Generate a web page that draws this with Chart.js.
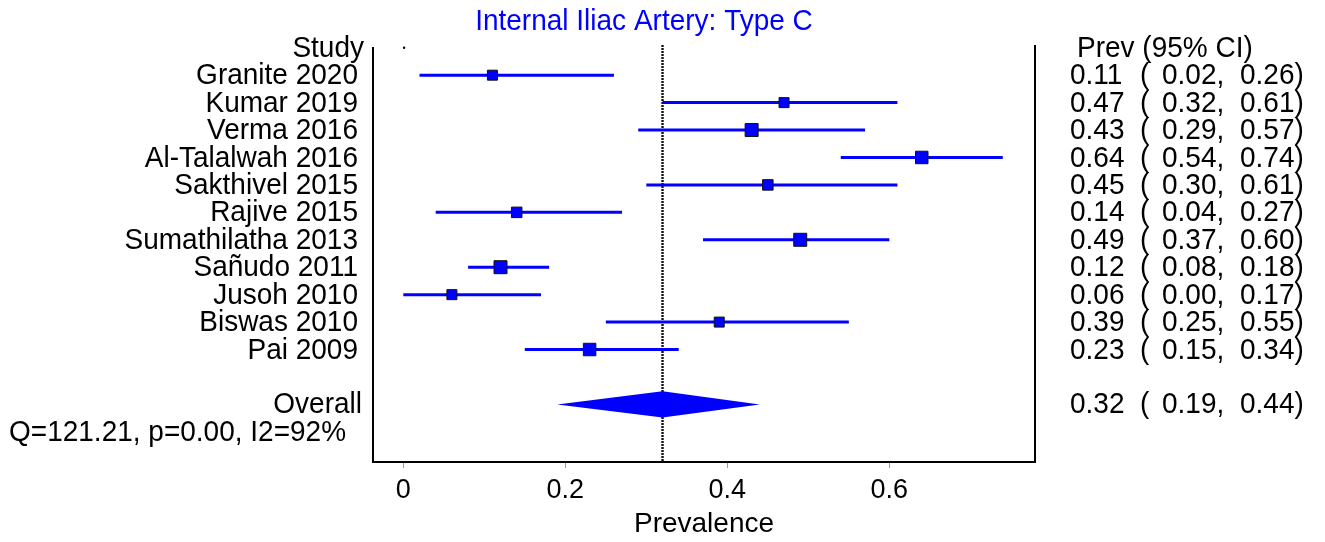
<!DOCTYPE html>
<html>
<head>
<meta charset="utf-8">
<title>Internal Iliac Artery: Type C</title>
<script src="https://cdn.jsdelivr.net/npm/chart.js@4/dist/chart.umd.min.js"></script>
<style>
  html, body { margin: 0; padding: 0; background: #fff; }
  #wrap { width: 1325px; height: 542px; }
</style>
</head>
<body>
<div id="wrap"><canvas id="forest" width="1325" height="542"></canvas></div>
<script>
// study rows, top to bottom
const studies = ["Granite 2020", "Kumar 2019", "Verma 2016", "Al-Talalwah 2016", "Sakthivel 2015",
  "Rajive 2015", "Sumathilatha 2013", "Sañudo 2011", "Jusoh 2010", "Biswas 2010", "Pai 2009"];
const prev  = [0.11, 0.47, 0.43, 0.64, 0.45, 0.14, 0.49, 0.12, 0.06, 0.39, 0.23];
const lower = [0.02, 0.32, 0.29, 0.54, 0.30, 0.04, 0.37, 0.08, 0.00, 0.25, 0.15];
const upper = [0.26, 0.61, 0.57, 0.74, 0.61, 0.27, 0.60, 0.18, 0.17, 0.55, 0.34];

const overall = [0.32, 0.19, 0.44]; // estimate, lower, upper
const heterogeneity = "Q=121.21, p=0.00, I2=92%";
const xTicks = [0, 0.2, 0.4, 0.6];

// box side in px (study weight)
const markerSide = [10, 10, 13, 12.5, 10.5, 10.5, 13, 13, 10, 10, 12.5];

const BLUE = "#0000ff";
const FAMILY = '"Liberation Sans", Arial, sans-serif';
const FONT = "28px " + FAMILY;
const overallRow = studies.length + 2;
const yMin = -0.1, yMax = 15.1;

// CI segments, null y breaks the line between studies
const ciPoints = [];
studies.forEach((s, i) => {
  ciPoints.push({ x: lower[i], y: i + 1 }, { x: upper[i], y: i + 1 }, { x: upper[i], y: null });
});

const diamond = [
  { x: overall[1], y: overallRow },
  { x: overall[0], y: overallRow - 0.48 },
  { x: overall[2], y: overallRow },
  { x: overall[0], y: overallRow + 0.48 },
  { x: overall[1], y: overallRow }
];

const forestText = {
  id: "forestText",
  afterDraw(chart) {
    const { ctx, chartArea, scales } = chart;
    const y = v => scales.y.getPixelForValue(v) + 1;
    // stata text is a touch taller than plain Arial
    const text = (str, x, yy) => {
      ctx.save();
      ctx.translate(x, yy);
      ctx.scale(1, 1.05);
      ctx.fillText(str, 0, 0);
      ctx.restore();
    };
    ctx.save();

    // frame sides
    ctx.strokeStyle = "#000";
    ctx.lineWidth = 2;
    ctx.beginPath();
    ctx.moveTo(chartArea.left, chartArea.top + 2);
    ctx.lineTo(chartArea.left, chartArea.bottom);
    ctx.moveTo(chartArea.right, chartArea.top);
    ctx.lineTo(chartArea.right, chartArea.bottom);
    ctx.stroke();

    ctx.font = FONT;
    ctx.textBaseline = "middle";

    // title
    ctx.fillStyle = BLUE;
    ctx.textAlign = "center";
    text("Internal Iliac Artery: Type C", 644, 22);

    ctx.fillStyle = "#000";
    ctx.textAlign = "right";
    text("Study", 364, y(0));
    studies.forEach((s, i) => text(s, 358, y(i + 1)));
    text("Overall", 362, y(overallRow));

    ctx.textAlign = "left";
    text(heterogeneity, 9, y(overallRow + 1));

    text("Prev (95% CI)", 1077, y(0));
    const row = (est, lo, hi, r) => {
      text(est.toFixed(2), 1070, y(r));
      text("(", 1140, y(r));
      text(lo.toFixed(2) + ",", 1162, y(r));
      text(hi.toFixed(2) + ")", 1240, y(r));
    };
    studies.forEach((s, i) => row(prev[i], lower[i], upper[i], i + 1));
    row(overall[0], overall[1], overall[2], overallRow);

    ctx.restore();
  }
};

new Chart(document.getElementById("forest"), {
  type: "scatter",
  data: {
    datasets: [
      {
        // reference line at pooled estimate
        type: "line",
        data: [{ x: overall[0], y: yMin }, { x: overall[0], y: yMax }],
        borderColor: "#111",
        borderWidth: 2.4,
        borderDash: [2, 1],
        pointRadius: 0,
        order: 3
      },
      {
        type: "line",
        data: ciPoints,
        borderColor: BLUE,
        borderWidth: 3,
        pointRadius: 0,
        spanGaps: false,
        order: 2
      },
      {
        type: "line",
        data: diamond,
        borderWidth: 0,
        borderColor: BLUE,
        backgroundColor: BLUE,
        fill: "shape",
        pointRadius: 0,
        order: 2
      },
      {
        data: prev.map((p, i) => ({ x: p, y: i + 1 })),
        pointStyle: "rect",
        pointRadius: markerSide.map(s => s / Math.SQRT2),
        backgroundColor: BLUE,
        borderColor: "#111",
        borderWidth: 1,
        order: 1
      },
      {
        // stray dot in the header row
        data: [{ x: 0.001, y: 0 }],
        pointRadius: 1.2,
        backgroundColor: "#000",
        borderWidth: 0,
        order: 1
      }
    ]
  },
  options: {
    responsive: false,
    animation: false,
    devicePixelRatio: 1,
    layout: { padding: { left: 373, right: 290, top: 45, bottom: 3.6 } },
    plugins: {
      legend: { display: false },
      tooltip: { enabled: false }
    },
    scales: {
      x: {
        type: "linear",
        min: -0.0374,
        max: 0.7798,
        afterBuildTicks: axis => { axis.ticks = xTicks.map(v => ({ value: v })); },
        ticks: {
          color: "#000",
          font: { family: FAMILY, size: 27 },
          padding: 6,
          maxRotation: 0,
          callback: v => (v === 0 ? "0" : v.toFixed(1))
        },
        grid: { drawOnChartArea: false, drawTicks: true, tickLength: 6, color: "#9a9a9a" },
        border: { display: true, color: "#000", width: 2 },
        title: {
          display: true,
          text: "Prevalence",
          color: "#000",
          font: { family: FAMILY, size: 28, lineHeight: 1 },
          padding: { top: -2, bottom: 0 }
        }
      },
      y: {
        type: "linear",
        display: false,
        reverse: true,
        min: yMin,
        max: yMax
      }
    }
  },
  plugins: [forestText]
});
</script>
</body>
</html>
